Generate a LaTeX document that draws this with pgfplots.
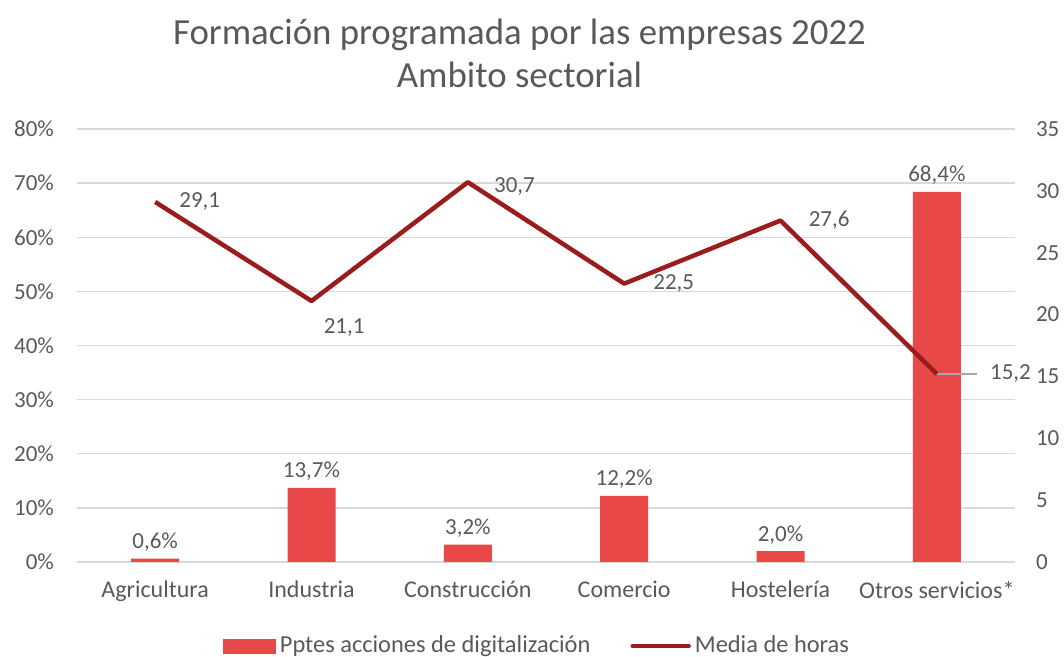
\documentclass[border=0pt]{standalone}
\usepackage{pgfplots}
\usepackage{pgfplotstable}
\pgfplotsset{compat=1.18}
\usepackage{fontspec}
\setmainfont{Carlito}
\definecolor{barred}{HTML}{E84848}
\definecolor{linered}{HTML}{9B1C1C}
\definecolor{txt}{HTML}{595959}
\definecolor{gridc}{HTML}{D9D9D9}

\pgfplotstableread{
x y
0 0.6
1 13.7
2 3.2
3 12.2
4 2.0
5 68.4
}\bars

% dx, dy: label offsets in pt
\pgfplotstableread{
x y dx dy
0 29.1 11 0
1 21.1 5 -13.5
2 30.7 12 -2
3 22.5 13.5 0
4 27.6 13 0
5 15.2 25.5 0
}\horas

\pgfplotsset{
  base/.style={
    at={(38.5pt,47.5pt)}, anchor=south west,
    scale only axis, width=469pt, height=216.5pt,
    xmin=-0.5, xmax=5.5, ymin=0,
    axis line style={draw=none},
    major tick length=0pt,
    tick label style={txt, font=\fontsize{11.5}{13}\selectfont},
    /pgf/number format/assume math mode=true,
  }
}

\begin{document}
\begin{tikzpicture}
\path[use as bounding box] (0,0) rectangle (532pt,328.5pt);

\node[txt, font=\fontsize{18.4}{21.5}\selectfont, align=center] at (259.75pt,301.75pt)
  {Formación programada por las empresas 2022\\Ambito sectorial};

\begin{axis}[base,
  ymax=80, ytick={0,10,...,80},
  yticklabel={\pgfmathprintnumber{\tick}\%},
  yticklabel style={xshift=-8pt},
  xtick={0,...,5},
  xticklabels={Agricultura,Industria,Construcción,Comercio,Hostelería,Otros servicios*},
  xticklabel style={yshift=-6pt, font=\fontsize{12}{14}\selectfont},
  ymajorgrids, grid style={gridc, line width=0.75pt},
]
\addplot[ybar, bar width=24pt, fill=barred, draw=none,
  nodes near coords={\pgfmathprintnumber[fixed,fixed zerofill,precision=1,use comma]{\pgfplotspointmeta}\%},
  nodes near coords style={txt, font=\fontsize{11.5}{13}\selectfont}]
  table[x=x,y=y] {\bars};
\end{axis}

\begin{axis}[base,
  ymax=35, ytick={0,5,...,35},
  yticklabel pos=right,
  yticklabel style={xshift=7pt},
  xtick=\empty,
  legend style={at={(0.4915,-0.194)}, anchor=center, draw=none, fill=none,
    legend columns=2, txt, font=\fontsize{12.2}{14}\selectfont,
    /tikz/every even column/.append style={column sep=18pt}},
]
\addlegendimage{legend image code/.code={\fill[barred] (0pt,-3.5pt) rectangle (26pt,3.5pt);}}
\addlegendentry{Pptes acciones de digitalización}
\draw[gray!70, line width=0.75pt] (axis cs:5,15.2) -- ++(20pt,0pt);
\addplot[linered, line width=2.25pt, line join=round, mark=none,
  legend image code/.code={\draw[linered, line width=2.25pt, line cap=round] (0pt,0pt) -- (28pt,0pt);},
  point meta=y,
  visualization depends on={\thisrow{dx}\as\dx},
  visualization depends on={\thisrow{dy}\as\dy},
  nodes near coords={\pgfmathprintnumber[fixed,fixed zerofill,precision=1,use comma]{\pgfplotspointmeta}},
  nodes near coords style={txt, font=\fontsize{11.5}{13}\selectfont, anchor=west, inner sep=0pt,
    xshift=\dx pt, yshift=\dy pt}]
  table[x=x,y=y] {\horas};
\addlegendentry{Media de horas}
\end{axis}
\end{tikzpicture}
\end{document}
